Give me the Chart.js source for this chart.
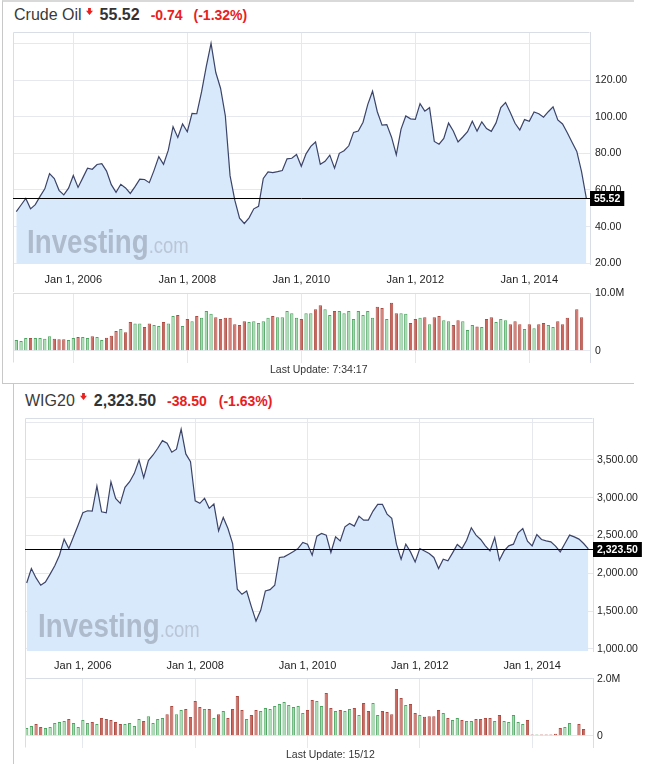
<!DOCTYPE html>
<html>
<head>
<meta charset="utf-8">
<title>Crude Oil / WIG20</title>
<script src="https://cdn.jsdelivr.net/npm/chart.js@4.4.1/dist/chart.umd.min.js"></script>
<style>
  body { margin: 0; background: #fff; font-family: Arial, "Liberation Sans", sans-serif; color: #333; }
  #page { position: relative; width: 658px; height: 764px; overflow: hidden; }
  .abs { position: absolute; }
  .panel1 { left: 2px; top: 0; width: 631px; height: 381px; border-top: 2px solid #d9d9d9; border-left: 1px solid #c8c8c8; border-bottom: 1px solid #c8c8c8; }
  .panel2 { left: 13px; top: 384px; width: 620px; height: 380px; border-left: 1px solid #c8c8c8; }
  .title { position: absolute; white-space: nowrap; line-height: 20px; }
  .title .name { font-size: 16px; color: #3a3a3a; }
  .title .last { font-size: 16px; font-weight: bold; color: #333; }
  .title .chg, .title .pct { font-size: 14px; font-weight: bold; color: #e8201e; }
  .arrow { position: absolute; width: 7px; height: 7px; background: #e8201e;
           clip-path: polygon(30% 0, 70% 0, 70% 40%, 100% 40%, 50% 100%, 0 40%, 30% 40%); }
  .wm { position: absolute; white-space: nowrap; font-size: 33px; line-height: 36px; transform: scaleX(0.84); transform-origin: 0 0; }
  .wm b { color: #aebbcd; }
  .wm span { font-size: 22px; color: #bac6d6; }
  .upd { position: absolute; font-size: 10.5px; line-height: 12px; color: #333; white-space: nowrap; }
</style>
</head>
<body>
<div id="page">
  <div class="abs panel1"></div>
  <div class="abs panel2"></div>

  <div class="title" style="left:14px;top:4.5px">
    <span class="name">Crude Oil</span><span class="last" style="margin-left:18px">55.52</span><span class="chg" style="margin-left:11px">-0.74</span><span class="pct" style="margin-left:11px">(-1.32%)</span>
  </div>
  <div class="arrow" style="left:86px;top:8px"></div>

  <div class="abs" style="left:13px;top:32px;width:620px;height:260px"><canvas id="oilPrice"></canvas></div>
  <div class="abs" style="left:13px;top:283px;width:620px;height:80px"><canvas id="oilVolume"></canvas></div>
  <div class="wm" style="left:27px;top:223.6px"><b>Investing</b><span>.com</span></div>
  <div class="upd" style="left:270px;top:362.5px">Last Update: 7:34:17</div>

  <div class="title" style="left:25px;top:390.5px">
    <span class="name">WIG20</span><span class="last" style="margin-left:19px">2,323.50</span><span class="chg" style="margin-left:11px">-38.50</span><span class="pct" style="margin-left:12px">(-1.63%)</span>
  </div>
  <div class="arrow" style="left:80px;top:393px"></div>

  <div class="abs" style="left:25px;top:418px;width:620px;height:260px"><canvas id="wigPrice"></canvas></div>
  <div class="abs" style="left:25px;top:668px;width:620px;height:80px"><canvas id="wigVolume"></canvas></div>
  <div class="wm" style="left:38px;top:607.8px"><b>Investing</b><span>.com</span></div>
  <div class="upd" style="left:286px;top:747.5px">Last Update: 15/12</div>
</div>

<script>
// x axis: month index, 0 = Jan 2005
const xTickMonths = [12, 36, 60, 84, 108];
const xTickLabels = ["Jan 1, 2006", "Jan 1, 2008", "Jan 1, 2010", "Jan 1, 2012", "Jan 1, 2014"];

// Crude Oil monthly closes (last one is the current quote)
const oilClose = [
  48.2, 51.8, 55.4, 49.7, 52.0, 56.5, 60.6, 68.9, 66.2, 59.8, 57.3, 61.0,
  67.9, 61.4, 66.6, 71.9, 71.3, 73.9, 74.4, 70.3, 62.9, 58.7, 63.1, 61.1,
  58.1, 61.8, 65.9, 65.7, 64.0, 70.7, 78.2, 74.0, 81.7, 94.5, 88.7, 96.0,
  91.8, 101.8, 101.6, 113.5, 127.4, 140.0, 124.1, 115.5, 100.6, 67.8, 54.4, 44.6,
  41.7, 44.8, 49.7, 51.1, 66.3, 69.9, 69.5, 70.0, 70.6, 77.0, 77.3, 79.4,
  72.9, 79.7, 83.8, 86.2, 74.0, 75.6, 79.0, 71.9, 80.0, 81.4, 84.1, 91.4,
  92.2, 97.0, 106.7, 113.9, 102.7, 95.4, 95.7, 88.8, 79.2, 93.2, 100.4, 98.8,
  98.5, 107.1, 103.0, 104.9, 86.5, 85.0, 88.1, 96.5, 92.2, 86.2, 88.9, 91.8,
  97.5, 92.1, 97.2, 93.5, 92.0, 96.6, 105.0, 107.7, 102.3, 96.4, 92.7, 98.4,
  97.5, 102.6, 101.6, 99.7, 102.7, 105.4, 98.2, 96.0, 91.2, 86.0, 81.0, 70.0, 55.52
];
// monthly volume, millions
const oilVolume = [
  1.85, 1.7, 2.2, 2.2, 2.2, 2.2, 2.1, 2.5, 2.1, 2.0, 2.0, 1.85,
  2.2, 2.4, 2.4, 2.2, 2.5, 2.4, 1.85, 2.25, 2.6, 3.4, 3.75, 3.2,
  5.0, 4.7, 4.7, 4.1, 4.7, 4.45, 4.3, 5.0, 4.7, 6.0, 6.2, 4.3,
  5.5, 5.1, 6.0, 5.7, 6.9, 6.4, 5.8, 5.5, 5.7, 5.7, 4.6, 4.45,
  5.1, 5.0, 5.1, 4.8, 5.1, 5.7, 6.0, 5.8, 5.8, 6.9, 6.5, 5.7,
  5.5, 6.5, 6.5, 7.2, 7.9, 7.2, 6.2, 6.9, 6.9, 6.5, 6.9, 5.5,
  6.9, 6.2, 6.9, 5.7, 7.6, 7.4, 5.5, 8.3, 6.5, 6.5, 6.4, 4.8,
  5.5, 5.7, 5.8, 4.6, 5.8, 6.0, 5.3, 5.1, 4.45, 5.3, 5.1, 3.6,
  4.45, 4.2, 4.1, 5.5, 5.8, 5.0, 5.5, 5.3, 4.6, 5.1, 4.6, 3.75,
  4.6, 3.9, 4.6, 4.8, 4.45, 4.1, 5.1, 4.6, 5.7, null, 7.2, 5.8
];
// g = up month, r = down month
const oilDir =
  "gggrggggrrrg" + "grggrggrrrgr" + "rggrrggrggrg" + "rgrgggrrrrrr" + "rgggggrggggg" +
  "rggrrggrgggg" + "ggggrrgrrggr" + "rgrgrrggrrgg" + "grgrrgggrrrg" + "rgrrggrrrrrr";
const oilPriceTicks = [20, 40, 60, 80, 100, 120, 140];
const oilVolumeTicks = [0, 10];

// WIG20 monthly closes (last one is the current quote)
const wigClose = [
  1873, 2064, 1940, 1843, 1886, 1990, 2100, 2240, 2452, 2329, 2483, 2640,
  2802, 2828, 2824, 3155, 2815, 2802, 3212, 2992, 2926, 3138, 3212, 3323,
  3500, 3266, 3491, 3566, 3655, 3756, 3721, 3602, 3642, 3907, 3580, 3478,
  2960, 2926, 2992, 2860, 2917, 2563, 2740, 2594, 2395, 1790, 1723, 1767,
  1560, 1369, 1511, 1767, 1785, 1843, 2210, 2218, 2254, 2290, 2330, 2409,
  2386, 2240, 2492, 2528, 2505, 2276, 2483, 2430, 2616, 2660, 2625, 2757,
  2704, 2704, 2824, 2913, 2913, 2784, 2727, 2386, 2187, 2386, 2284, 2151,
  2329, 2297, 2263, 2210, 2064, 2187, 2165, 2271, 2382, 2329, 2439, 2603,
  2506, 2448, 2364, 2297, 2475, 2174, 2297, 2364, 2386, 2536, 2594, 2426,
  2364, 2514, 2448, 2430, 2417, 2360, 2284, 2395, 2506, 2483, 2453, 2395, 2323.5
];
const wigVolume = [
  0.27, 0.34, 0.41, 0.31, 0.27, 0.31, 0.45, 0.48, 0.52, 0.59, 0.45, 0.31,
  0.55, 0.45, 0.48, 0.41, 0.62, 0.59, 0.55, 0.48, 0.41, 0.41, 0.45, 0.34,
  0.59, 0.52, 0.69, 0.45, 0.59, 0.62, 0.76, 1.05, 0.76, 0.91, 0.94, 0.66,
  1.22, 1.01, 0.94, 0.94, 0.62, 0.76, 0.87, 0.62, 0.94, 1.40, 0.91, 0.59,
  0.73, 0.91, 0.87, 0.98, 0.94, 1.05, 1.12, 1.19, 1.08, 1.01, 1.05, 0.80,
  0.91, 1.26, 1.22, 1.05, 1.51, 0.98, 0.87, 0.91, 0.87, 0.94, 0.98, 0.73,
  1.15, 0.87, 1.15, 0.73, 0.87, 0.84, 0.76, 1.65, 1.33, 1.08, 1.12, 0.80,
  0.73, 0.67, 0.69, 0.69, 0.91, 0.80, 0.62, 0.55, 0.62, 0.55, 0.52, 0.52,
  0.59, 0.59, 0.62, 0.62, 0.52, 0.73, 0.52, 0.48, 0.73, 0.48, 0.41, 0.55,
  0.04, 0.04, 0.04, 0.04, 0.04, 0.07, 0.27, 0.31, 0.45, null, 0.41, 0.24
];
const wigDir =
  "ggrrgggggrgg" + "ggrgrrrrrggg" + "grggggrrggrr" + "rrgrgrgrrrrg" + "rrgggggggggg" +
  "rrggrrgrggrg" + "rrggrrrrrgrr" + "grrrrgrggrgg" + "rrrrgrgggggr" + "rgrrrrrggrrr";
const wigPriceTicks = [1000, 1500, 2000, 2500, 3000, 3500, 4000];
const wigVolumeTicks = [0, 2];

const FONT = "Arial, 'Liberation Sans', sans-serif";
const LINE = "#3b4468";
const FILL = "#d8e9fc";
const GRID = "#e5e8ee";
const FRAME = "#d9dee6";
const GREEN = "#a3d9ac", GREEN_EDGE = "#4ea562";
const RED = "#cc665d", RED_EDGE = "#ad4a41";

Chart.defaults.font.family = FONT;

function frame(leftToBottom) {
  return {
    id: "frame",
    afterDatasetsDraw(chart) {
      const { ctx, chartArea: a } = chart;
      const l = Math.round(a.left) + 0.5, t = Math.round(a.top) + 0.5;
      const r = Math.round(a.right) - 0.5, b = Math.round(a.bottom) - 0.5;
      ctx.save();
      ctx.strokeStyle = FRAME;
      ctx.lineWidth = 1;
      ctx.beginPath();
      ctx.moveTo(l, leftToBottom ? chart.height : b);
      ctx.lineTo(l, t);
      ctx.lineTo(r, t);
      ctx.stroke();
      ctx.restore();
    },
  };
}

function lastQuote(value, text) {
  return {
    id: "lastQuote",
    afterDraw(chart) {
      const { ctx, chartArea: a } = chart;
      const y = Math.round(chart.scales.y.getPixelForValue(value)) + 0.5;
      ctx.save();
      ctx.strokeStyle = "#000";
      ctx.lineWidth = 1;
      ctx.beginPath();
      ctx.moveTo(a.left, y);
      ctx.lineTo(a.right, y);
      ctx.stroke();
      ctx.font = "bold 10.5px " + FONT;
      const w = ctx.measureText(text).width + 8;
      ctx.fillStyle = "#000";
      ctx.fillRect(a.right, y - 7.5, w, 15);
      ctx.fillStyle = "#fff";
      ctx.textBaseline = "middle";
      ctx.fillText(text, a.right + 4, y + 0.5);
      ctx.restore();
    },
  };
}

function xAxis(min, max, height, showLabels, pad) {
  return {
    type: "linear",
    min,
    max,
    offset: false,
    afterBuildTicks: (s) => { s.ticks = xTickMonths.map((v) => ({ value: v })); },
    afterFit: (s) => { s.height = height; s.paddingLeft = 0; s.paddingRight = 0; },
    ticks: {
      display: showLabels,
      callback: (v) => xTickLabels[xTickMonths.indexOf(v)],
      color: "#222",
      font: { size: 11 },
      padding: pad,
      maxRotation: 0,
      autoSkip: false,
    },
    grid: { color: GRID, drawTicks: false, offset: false },
    border: { display: false },
  };
}

function yAxis(min, max, tickValues, width, fmt, pad, hideTop) {
  return {
    position: "right",
    min,
    max,
    afterBuildTicks: (s) => { s.ticks = tickValues.map((v) => ({ value: v })); },
    afterFit: (s) => { s.width = width; s.paddingTop = 0; s.paddingBottom = 0; },
    ticks: {
      callback: (v, i, arr) => (hideTop && i === arr.length - 1 ? "" : fmt(v)),
      color: "#222",
      font: { size: 10.5 },
      padding: pad,
    },
    grid: { color: GRID, drawTicks: false },
    border: { display: true, color: FRAME },
  };
}

function priceChart(id, closes, ticks, fmt, yMin, yMax, xMin, xMax, axisW, xH, pad, ypad) {
  const last = closes[closes.length - 1];
  return new Chart(document.getElementById(id).getContext("2d"), {
    type: "line",
    data: {
      datasets: [{
        data: closes.map((v, i) => ({ x: i, y: v })),
        borderColor: LINE,
        borderWidth: 1.2,
        backgroundColor: FILL,
        fill: "start",
        pointRadius: 0,
        tension: 0,
      }],
    },
    options: {
      responsive: true,
      maintainAspectRatio: false,
      animation: false,
      events: [],
      layout: { padding: 0 },
      plugins: { legend: { display: false }, tooltip: { enabled: false } },
      scales: {
        x: xAxis(xMin, xMax, xH, true, pad),
        y: yAxis(yMin, yMax, ticks, axisW, fmt, ypad, true),
      },
    },
    plugins: [frame(true), lastQuote(last, fmt(last))],
  });
}

function volumeChart(id, vols, dir, ticks, yMin, yMax, xMin, xMax, axisW, ypad) {
  const up = dir.split("").map((c) => c === "g");
  return new Chart(document.getElementById(id).getContext("2d"), {
    type: "bar",
    data: {
      datasets: [{
        data: vols.map((v, i) => ({ x: i, y: v })),
        backgroundColor: up.map((u) => (u ? GREEN : RED)),
        borderColor: up.map((u) => (u ? GREEN_EDGE : RED_EDGE)),
        borderWidth: 1,
        barPercentage: 0.7,
        categoryPercentage: 1,
      }],
    },
    options: {
      responsive: true,
      maintainAspectRatio: false,
      animation: false,
      events: [],
      layout: { padding: { top: 10 } },
      plugins: { legend: { display: false }, tooltip: { enabled: false } },
      scales: {
        x: xAxis(xMin, xMax, 0, false, 0),
        y: yAxis(yMin, yMax, ticks, axisW, (v) => (v === 0 ? "0" : v.toFixed(1) + "M"), ypad, false),
      },
    },
    plugins: [frame(false)],
  });
}

const fmtOil = (v) => v.toFixed(2);
const fmtWig = (v) => v.toLocaleString("en-US", { minimumFractionDigits: 2, maximumFractionDigits: 2 });

priceChart("oilPrice", oilClose, oilPriceTicks, fmtOil, 19.6, 146.2, -0.695, 120.78, 43, 28, 9, 5);
volumeChart("oilVolume", oilVolume, oilDir, oilVolumeTicks, -2.12, 10, -0.695, 120.78, 43, 5);
priceChart("wigPrice", wigClose, wigPriceTicks, fmtWig, 973, 4055, -0.363, 121.0, 52, 27, 8.5, 4);
volumeChart("wigVolume", wigVolume, wigDir, wigVolumeTicks, -0.434, 2.035, -0.363, 121.0, 52, 4);
</script>
</body>
</html>
